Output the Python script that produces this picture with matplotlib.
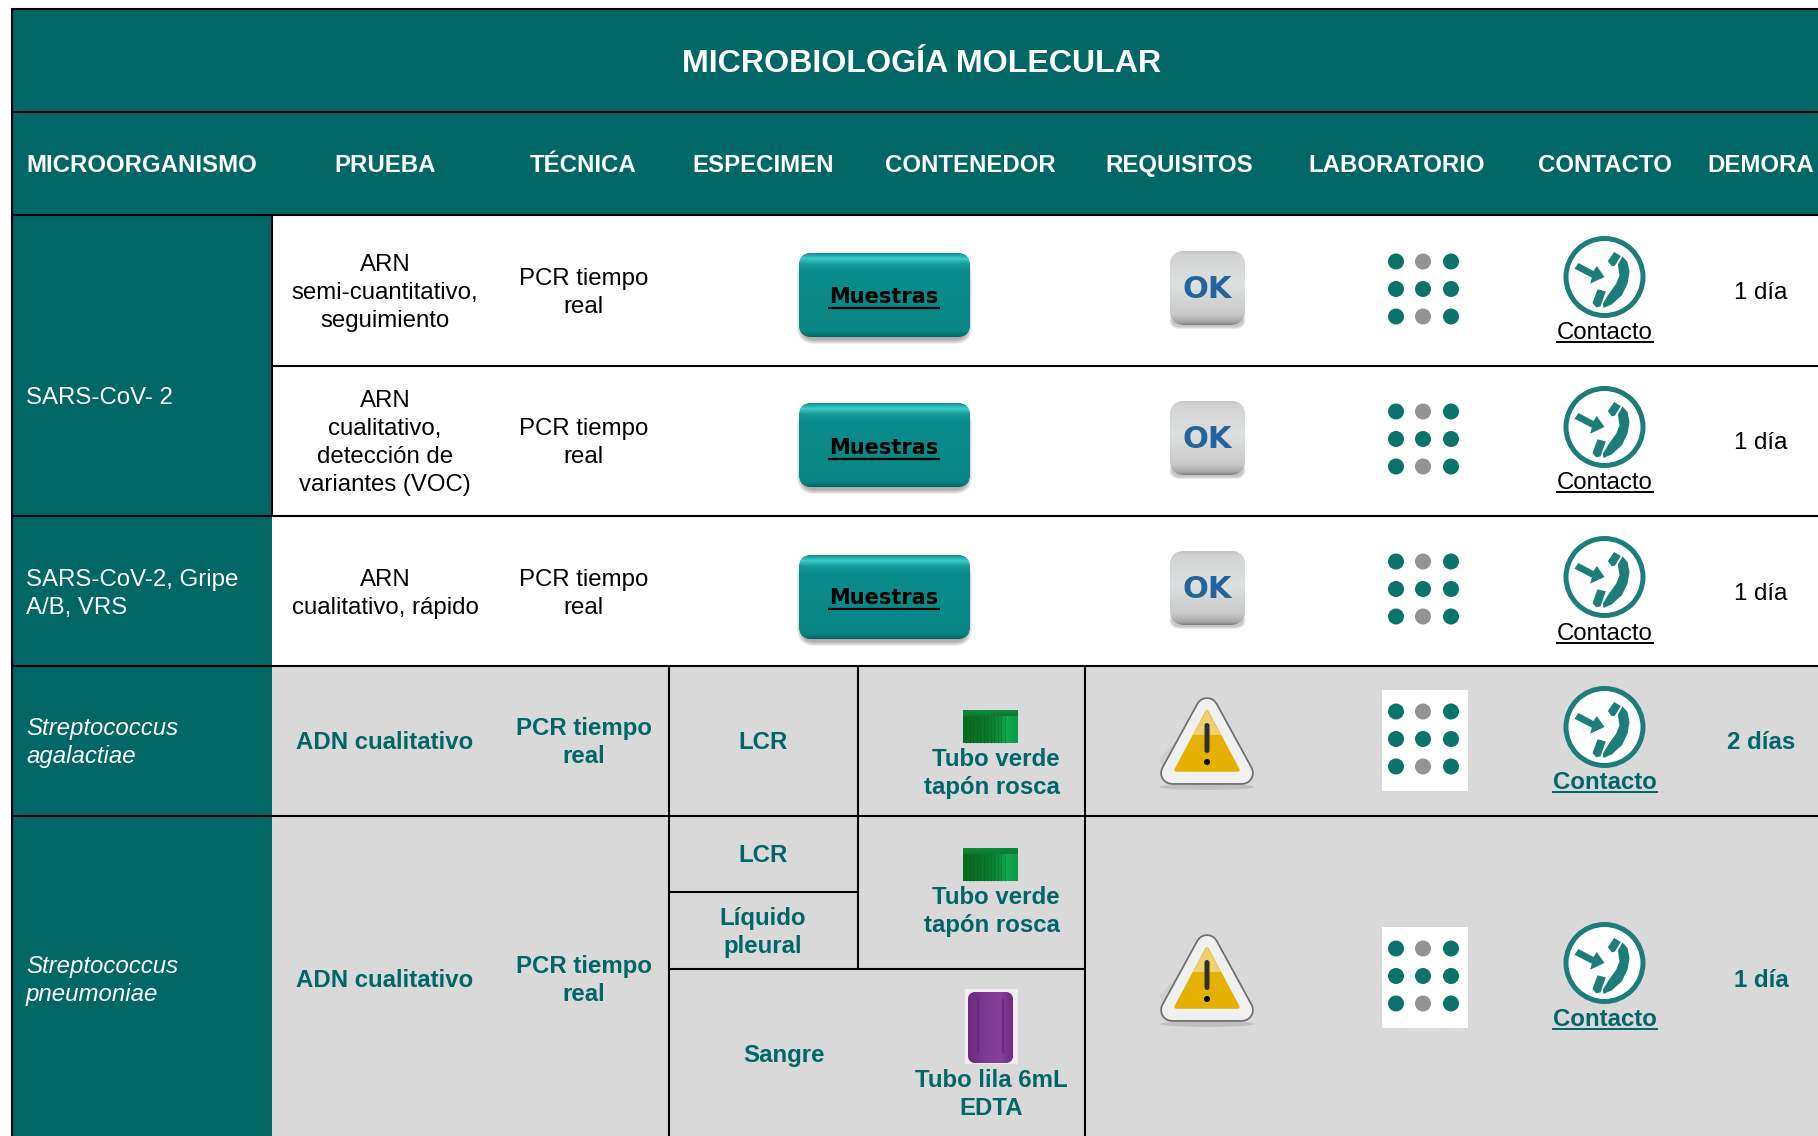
import numpy as np
import matplotlib
matplotlib.use("Agg")
import matplotlib.pyplot as plt
from matplotlib.patches import Rectangle, FancyBboxPatch, Circle, Polygon, Ellipse
from matplotlib.colors import LinearSegmentedColormap

TEAL = "#006666"
GREY = "#D9D9D9"
FONT = "Liberation Sans"

title = "MICROBIOLOGÍA MOLECULAR"
headers = ["MICROORGANISMO", "PRUEBA", "TÉCNICA", "ESPECIMEN", "CONTENEDOR",
           "REQUISITOS", "LABORATORIO", "CONTACTO", "DEMORA"]
header_x = [26, 385, 583.5, 763, 970.5, 1179, 1396.5, 1605, 1761]
row_lines = [366, 516, 666, 816]

organisms = [["SARS-CoV- 2"], ["SARS-CoV-2, Gripe", "A/B, VRS"],
             ["Streptococcus", "agalactiae"], ["Streptococcus", "pneumoniae"]]
organism_y = [395, 591, 740, 978]
tests = [["ARN", "semi-cuantitativo,", "seguimiento"],
         ["ARN", "cualitativo,", "detección de", "variantes (VOC)"],
         ["ARN", "cualitativo, rápido"],
         ["ADN cualitativo"], ["ADN cualitativo"]]
technique = ["PCR tiempo", "real"]
row_y = [290.5, 440.5, 591, 740, 978]
delays = ["1 día", "1 día", "1 día", "2 días", "1 día"]

specimens = [(["LCR"], 763, 740), (["LCR"], 763, 853),
             (["Líquido", "pleural"], 763, 930.5), (["Sangre"], 784, 1053)]
containers = [(["Tubo verde", "tapón rosca"], 1059.5, 771, "right"),
              (["Tubo verde", "tapón rosca"], 1059.5, 909, "right"),
              (["Tubo lila 6mL", "EDTA"], 991.5, 1092, "center")]

button_y = [295, 445, 597]
button_text_y = [295.5, 446.5, 596.5]
ok_y = [288, 438, 588]
dots_y = [289, 439, 589, 739, 976]
phone_y = [277, 427, 577, 727, 963]
contact_y = [330, 480, 631, 780, 1017]
warning_y = [697, 934]
green_tube_y = [710, 848]

fig = plt.figure(figsize=(18.18, 11.36), dpi=100, facecolor="white")
ax = fig.add_axes([0, 0, 1, 1])
ax.set_xlim(0, 1818)
ax.set_ylim(1136, 0)
ax.axis("off")
ax.set_autoscale_on(False)

FS = 17.3
LH = 27.8


def put(lines, x, yc, size=FS, color="black", weight="normal", style="normal",
        ha="center", family=FONT, lh=LH, z=6):
    n = len(lines)
    out = []
    for i, s in enumerate(lines):
        y = yc + (i - (n - 1) / 2) * lh + 0.36 * size * 100 / 72
        out.append(ax.text(x, y, s, ha=ha, va="baseline", fontsize=size, color=color,
                           fontweight=weight, fontstyle=style, family=family, zorder=z))
    return out


def underline(t, y, color, lw=1.4):
    bb = t.get_window_extent(fig.canvas.get_renderer())
    ax.plot([bb.x0 - 1, bb.x1 + 1], [y, y], color=color, lw=lw, zorder=6,
            solid_capstyle="butt")


def gradient(x0, y0, x1, y1, stops, clip=None, horizontal=False, z=3):
    cmap = LinearSegmentedColormap.from_list("g", stops)
    arr = np.linspace(0, 1, 128)
    arr = arr[None, :] if horizontal else arr[:, None]
    im = ax.imshow(arr, extent=(x0, x1, y1, y0), cmap=cmap, aspect="auto", zorder=z,
                   interpolation="bilinear", origin="upper")
    if clip is not None:
        im.set_clip_path(clip)
    ax.set_xlim(0, 1818)
    ax.set_ylim(1136, 0)


def soft_shadow(x0, y0, x1, y1, r, grow=5, alpha=0.07):
    for g in np.arange(grow, 0, -1):
        ax.add_patch(FancyBboxPatch((x0 - g, y0 - g), x1 - x0 + 2 * g, y1 - y0 + 2 * g,
                                    boxstyle=f"round,pad=0,rounding_size={r + g}",
                                    fc="black", ec="none", alpha=alpha, zorder=2))


def button(yc, ty):
    x0, x1, y0, y1 = 799, 970, yc - 42, yc + 42
    soft_shadow(x0 + 3, y0 + 10, x1 - 3, y1 + 2, 13)
    p = FancyBboxPatch((x0, y0), x1 - x0, y1 - y0, boxstyle="round,pad=0,rounding_size=13",
                       fc="#0a8a8a", ec="none", zorder=3)
    ax.add_patch(p)
    gradient(x0, y0, x1, y1, [(0, "#128f8f"), (0.06, "#3ccccc"), (0.13, "#179a9a"), (0.22, "#0a8c8c"),
                              (0.93, "#0a8686"), (0.98, "#087272"), (1, "#066060")], clip=p)
    t = put(["Muestras"], (x0 + x1) / 2 - 0.5, ty, size=15, weight="bold", family="DejaVu Sans")[0]
    underline(t, ty + 12.5, "black", lw=1.6)


def ok_icon(yc):
    x0, x1, y0, y1 = 1170, 1245, yc - 37, yc + 37
    soft_shadow(x0 + 2, y1 - 10, x1 - 2, y1 + 1, 8, grow=3, alpha=0.08)
    p = FancyBboxPatch((x0, y0), x1 - x0, y1 - y0, boxstyle="round,pad=0,rounding_size=15",
                       fc="#d0d0d0", ec="none", zorder=3)
    ax.add_patch(p)
    gradient(x0, y0, x1, y1, [(0, "#c4c4c4"), (0.05, "#d2d2d2"), (0.45, "#dde0e1"), (0.85, "#cacaca"),
                              (0.96, "#a8a8a8"), (1, "#808080")], clip=p)
    put(["OK"], 1207, yc - 1, size=22, color="#24649c", weight="bold", family="DejaVu Sans")


def dots(yc, box):
    if box:
        ax.add_patch(Rectangle((1382, yc - 49), 86, 101, fc="white", ec="none", zorder=2))
    xs = [1396, 1423, 1451]
    for r in range(3):
        for c in range(3):
            col = "#939393" if c == 1 and r != 1 else "#0a7468"
            ax.add_patch(Circle((xs[c], yc + (r - 1) * 27.5), 8, fc=col, ec="none", zorder=4))


def phone(yc):
    cx = 1604.5
    col = "#1d7d78"
    ax.add_patch(Circle((cx, yc), 38.5, fc="white", ec=col, lw=3.6, zorder=4))
    s = lambda pts: [(cx + (a - 793) / 3, yc + (b - 170) / 3) for a, b in pts]
    arrow = [(703, 145), (715, 128), (760, 152), (770, 137), (793, 170), (750, 190), (755, 172)]
    body = [(847, 108), (862, 125), (868, 155), (862, 190), (845, 225), (815, 252), (790, 263), (788, 250),
            (805, 222), (828, 190), (838, 165), (833, 133)]
    ear = [(803, 122), (822, 95), (842, 107), (824, 136), (815, 138)]
    mouth = [(757, 248), (772, 207), (797, 213), (781, 258), (768, 261)]
    for pts in (arrow, body, ear, mouth):
        ax.add_patch(Polygon(s(pts), closed=True, fc=col, ec="none", zorder=5))


def warning(y0):
    cx = 1207
    core = [(cx, y0 + 12), (cx - 35, y0 + 76), (cx + 35, y0 + 76)]
    shadow = Ellipse((cx, y0 + 90), 94, 6, fc="#b4b4b4", ec="none", alpha=0.7, zorder=2)
    ax.add_patch(shadow)
    ax.add_patch(Polygon([(cx - 20, y0 + 34), (cx - 46, y0 + 62), (cx - 36, y0 + 86)], closed=True,
                         fc="#cfcfcf", ec="#cfcfcf", lw=2, zorder=2))
    ax.add_patch(Polygon(core, closed=True, fc="#6e6e6e", ec="#6e6e6e", lw=17, joinstyle="round", zorder=3))
    ax.add_patch(Polygon(core, closed=True, fc="#f0f0f0", ec="#f0f0f0", lw=14.5, joinstyle="round", zorder=4))
    yellow = Polygon([(cx, y0 + 15), (cx - 31, y0 + 73), (cx + 31, y0 + 73)], closed=True,
                     fc="#E6B000", ec="#E6B000", lw=2.5, joinstyle="round", zorder=5)
    ax.add_patch(yellow)
    glow = Polygon([(cx, y0 + 13), (cx - 14, y0 + 38), (cx + 14, y0 + 38)], closed=True,
                   fc="#F0D070", ec="none", zorder=5)
    ax.add_patch(glow)
    ax.add_patch(FancyBboxPatch((cx - 2.5, y0 + 26), 5, 30, boxstyle="round,pad=0,rounding_size=2.5",
                                fc="#2f2f2f", ec="none", zorder=6))
    ax.add_patch(Circle((cx, y0 + 65), 3, fc="black", ec="none", zorder=6))


def green_tube(y0):
    gradient(963, y0, 1018, y0 + 33, [(0, "#0a6a20"), (0.45, "#0a7a2c"), (0.65, "#0c8a3a"),
                                      (0.8, "#10a84e"), (1, "#0c9a48")], horizontal=True)
    gradient(963, y0, 1018, y0 + 6, [(0, "#0b8a3a"), (1, "#0b7a30")], z=3.1)
    for x in np.arange(966, 1008, 3.5):
        ax.plot([x, x], [y0 + 6, y0 + 33], color="#04501a", lw=0.5, alpha=0.35, zorder=4)


def purple_tube():
    ax.add_patch(Rectangle((965, 989), 53, 75, fc="#f6ecf7", ec="none", zorder=2.1))
    p = FancyBboxPatch((968, 992), 45, 71, boxstyle="round,pad=0,rounding_size=8",
                       fc="#7b3490", ec="none", zorder=3)
    ax.add_patch(p)
    gradient(968, 992, 1013, 1063, [(0, "#6c2a80"), (0.4, "#7f3a94"), (0.7, "#86409a"), (1, "#6f2c84")],
             clip=p, horizontal=True)
    for x in (978, 1003):
        ax.plot([x, x], [1000, 1052], color="#5e2070", lw=1.6, alpha=0.6, zorder=4)


# Backgrounds
ax.add_patch(Rectangle((12, 9), 1806, 206, fc=TEAL, ec="none", zorder=1))
ax.add_patch(Rectangle((12, 215), 260, 921, fc=TEAL, ec="none", zorder=1))
ax.add_patch(Rectangle((272, 666), 1546, 470, fc=GREY, ec="none", zorder=1))

# Grid lines
LW = 1.5
for x0, x1, y in [(11, 1818, 9), (12, 1818, 112), (12, 1818, 215), (272, 1818, row_lines[0]),
                  (12, 1818, row_lines[1]), (12, 1818, row_lines[2]), (12, 1818, row_lines[3]),
                  (669, 858, 892), (669, 1085, 969)]:
    ax.plot([x0, x1], [y, y], color="black", lw=LW, zorder=5, solid_capstyle="butt")
for x, y0, y1 in [(12, 8, 1136), (272, 215, 516), (669, 666, 1136), (858, 666, 969), (1085, 666, 1136)]:
    ax.plot([x, x], [y0, y1], color="black", lw=LW, zorder=5, solid_capstyle="butt")

# Text: header
put([title], 921.5, 60, size=23.1, color="white", weight="bold")
for i, (h, x) in enumerate(zip(headers, header_x)):
    put([h], x, 163.5, size=17.3, color="white", weight="bold", ha="left" if i == 0 else "center")

# Column 1
for i, (o, y) in enumerate(zip(organisms, organism_y)):
    put(o, 26, y, color="white", ha="left", style="italic" if i >= 2 else "normal")

# Test, technique, delay
for i, (tst, y, d) in enumerate(zip(tests, row_y, delays)):
    kw = dict(color=TEAL, weight="bold") if i >= 3 else {}
    put(tst, 385, y, **kw)
    put(technique, 583.5, y, **kw)
    put([d], 1761, y, **kw)

# Specimen, container
for s, x, y in specimens:
    put(s, x, y, color=TEAL, weight="bold")
for s, x, y, ha in containers:
    put(s, x, y, color=TEAL, weight="bold", ha=ha)

# Icons
for y, ty in zip(button_y, button_text_y):
    button(y, ty)
for y in ok_y:
    ok_icon(y)
for i, y in enumerate(dots_y):
    dots(y, i >= 3)
for i, (p, c) in enumerate(zip(phone_y, contact_y)):
    phone(p)
    bold = i >= 3
    t = put(["Contacto"], 1605, c, color=TEAL if bold else "black", weight="bold" if bold else "normal")[0]
    underline(t, c + 11.5, "black" if not bold else TEAL, lw=1.4)
for y in warning_y:
    warning(y)
for y in green_tube_y:
    green_tube(y)
purple_tube()

fig.savefig("out.png", dpi=100, facecolor="white")
